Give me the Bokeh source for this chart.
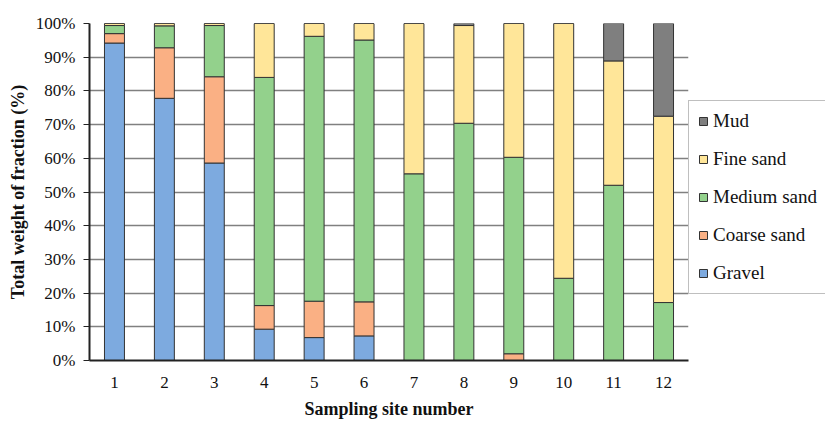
from bokeh.plotting import figure
from bokeh.models import FactorRange, Legend, LegendItem, FixedTicker, PrintfTickFormatter, Range1d
from bokeh.embed import file_html
from bokeh.resources import INLINE

sites = ["1", "2", "3", "4", "5", "6", "7", "8", "9", "10", "11", "12"]
gravel = [94.2, 77.8, 58.6, 9.3, 6.8, 7.3, 0, 0, 0, 0, 0, 0]
coarse_sand = [2.8, 15.0, 25.6, 7.0, 10.8, 10.1, 0, 0, 2.0, 0, 0, 0]
medium_sand = [2.4, 6.5, 15.2, 67.7, 78.6, 77.7, 55.4, 70.4, 58.3, 24.4, 52.0, 17.2]
fine_sand = [0.6, 0.7, 0.6, 16.0, 3.8, 4.9, 44.6, 29.0, 39.7, 75.6, 36.9, 55.3]
mud = [0.0, 0.0, 0.0, 0.0, 0.0, 0.0, 0.0, 0.6, 0.0, 0.0, 11.1, 27.5]

names = ["Gravel", "Coarse sand", "Medium sand", "Fine sand", "Mud"]
keys = ["gravel", "coarse", "medium", "fine", "mud"]
colors = ["#7DAADF", "#FAB084", "#93D18C", "#FFE699", "#7F7F7F"]
yticks = list(range(0, 101, 10))

FONT = "Liberation Serif"

p = figure(x_range=FactorRange(*sites, range_padding=0), y_range=Range1d(0, 100),
           frame_width=599, frame_height=337, output_backend="svg", toolbar_location=None,
           min_border_left=89, min_border_top=23, min_border_bottom=61, min_border_right=0)
p.outline_line_color = None

data = dict(x=sites, gravel=gravel, coarse=coarse_sand, medium=medium_sand, fine=fine_sand, mud=mud)
rs = p.vbar_stack(keys, x="x", width=0.4, source=data, fill_color=colors,
                  line_color="#333333", line_width=1)

p.xgrid.visible = False
p.ygrid.grid_line_color = "#808080"
p.ygrid.grid_line_width = 1.3
p.ygrid.ticker = FixedTicker(ticks=yticks)

p.yaxis.ticker = FixedTicker(ticks=yticks)
p.yaxis.formatter = PrintfTickFormatter(format="%d%%")
p.yaxis.axis_label = "Total weight of fraction (%)"
p.xaxis.axis_label = "Sampling site number"
for ax in (p.xaxis, p.yaxis):
    ax.axis_line_color = "#222222"
    ax.axis_line_width = 2
    ax.major_label_text_font = FONT
    ax.major_label_text_font_size = "17px"
    ax.major_label_text_color = "#111111"
    ax.axis_label_text_font = FONT
    ax.axis_label_text_font_size = "18px"
    ax.axis_label_text_font_style = "bold"
    ax.axis_label_text_color = "#111111"
    ax.minor_tick_line_color = None
p.yaxis.major_tick_line_color = "#222222"
p.yaxis.major_tick_out = 6
p.yaxis.major_tick_in = 0
p.yaxis.major_label_standoff = 8
p.yaxis.axis_label_standoff = 5
p.xaxis.major_tick_line_color = None
p.xaxis.major_label_standoff = 10
p.xaxis.axis_label_standoff = 8

items = [LegendItem(label=names[i], renderers=[rs[i]]) for i in reversed(range(5))]
legend = Legend(items=items, location=(0, 66), orientation="vertical",
                label_text_font=FONT, label_text_font_size="19px", label_text_color="#111111",
                glyph_width=10, glyph_height=10, label_height=20, label_standoff=5, spacing=16,
                padding=9, margin=0, border_line_color="#7f7f7f", border_line_width=1.5,
                background_fill_color="white")
p.add_layout(legend, "right")

open("out.html", "w").write(file_html(p, INLINE))
